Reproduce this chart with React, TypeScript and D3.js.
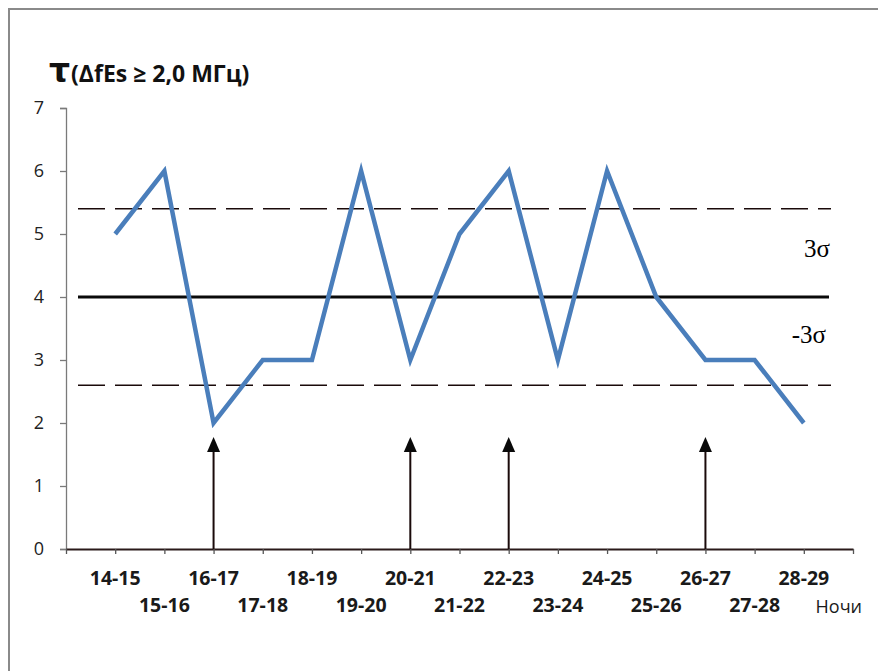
import React, { useEffect, useRef } from 'react';
import * as d3 from 'd3';

const nights = [
  '14-15', '15-16', '16-17', '17-18', '18-19', '19-20', '20-21', '21-22',
  '22-23', '23-24', '24-25', '25-26', '26-27', '27-28', '28-29',
];
const tauValues = [5, 6, 2, 3, 3, 6, 3, 5, 6, 3, 6, 4, 3, 3, 2];
const yTicks = [0, 1, 2, 3, 4, 5, 6, 7];
const meanLevel = 4;
const upperLevel = 5.4;
const lowerLevel = 2.6;
const arrowNights = ['16-17', '20-21', '22-23', '26-27'];

const App: React.FC = () => {
  const svgRef = useRef<SVGSVGElement>(null);

  useEffect(() => {
    if (!svgRef.current) return;
    const width = 878;
    const height = 671;
    const svg = d3.select(svgRef.current).attr('width', width).attr('height', height);
    svg.selectAll('*').remove();

    // frame (only left and top edges visible in the crop)
    svg.append('path')
      .attr('d', `M9,${height} L9,9 L${width},9`)
      .attr('fill', 'none')
      .attr('stroke', '#8a8a8a')
      .attr('stroke-width', 2);

    // slots: one empty slot at each end, categories on the ticks
    const slots = ['_start', ...nights, '_end'];
    const x = d3.scalePoint<string>().domain(slots).range([66, 853]);
    const y = d3.scaleLinear().domain([0, 7]).range([549, 108]);

    // y axis
    const yAxis = svg.append('g').attr('transform', 'translate(66,0)')
      .call(d3.axisLeft(y).tickValues(yTicks).tickSize(6).tickPadding(16).tickFormat(d3.format('d')));
    yAxis.select('.domain').attr('stroke', '#7a7a7a').attr('stroke-width', 1.3);
    yAxis.selectAll('.tick line').attr('stroke', '#7a7a7a').attr('stroke-width', 1.3);
    yAxis.selectAll('.tick text')
      .attr('font-family', 'Open Sans, sans-serif')
      .attr('font-size', 18)
      .attr('fill', '#222');

    // x axis
    const xAxis = svg.append('g').attr('transform', `translate(0,${y(0)})`)
      .call(d3.axisBottom(x).tickSize(5).tickSizeOuter(0).tickFormat(() => ''));
    xAxis.select('.domain').attr('stroke', '#2a1a1a').attr('stroke-width', 2);
    xAxis.selectAll('.tick line').attr('stroke', '#555').attr('stroke-width', 1.3);

    // category labels in two staggered rows
    svg.append('g')
      .selectAll('text')
      .data(nights)
      .enter()
      .append('text')
      .attr('x', (d) => x(d) ?? 0)
      .attr('y', (d, i) => (i % 2 === 0 ? 585 : 612))
      .attr('text-anchor', 'middle')
      .attr('font-family', 'Open Sans, sans-serif')
      .attr('font-weight', 'bold')
      .attr('font-size', 19.5)
      .attr('fill', '#1a1a1a')
      .text((d) => d);

    svg.append('text')
      .attr('x', 862)
      .attr('y', 613)
      .attr('text-anchor', 'end')
      .attr('font-family', 'Open Sans, sans-serif')
      .attr('font-size', 18)
      .attr('fill', '#1a1a1a')
      .text('Ночи');

    // control levels
    const refG = svg.append('g');
    [upperLevel, lowerLevel].forEach((lv) => {
      refG.append('line')
        .attr('x1', 78).attr('x2', 831)
        .attr('y1', y(lv)).attr('y2', y(lv))
        .attr('stroke', '#1a0a0a')
        .attr('stroke-width', 1.5)
        .attr('stroke-dasharray', '27,10');
    });
    refG.append('line')
      .attr('x1', 78).attr('x2', 829)
      .attr('y1', y(meanLevel)).attr('y2', y(meanLevel))
      .attr('stroke', '#0a0a0a')
      .attr('stroke-width', 3);

    svg.append('text')
      .attr('x', 830).attr('y', 257)
      .attr('text-anchor', 'end')
      .attr('font-family', 'Liberation Serif, serif')
      .attr('font-size', 25)
      .text('3σ');
    svg.append('text')
      .attr('x', 826).attr('y', 343)
      .attr('text-anchor', 'end')
      .attr('font-family', 'Liberation Serif, serif')
      .attr('font-size', 25)
      .text('-3σ');

    // arrows
    const arrowG = svg.append('g');
    arrowNights.forEach((n) => {
      const ax = x(n) ?? 0;
      arrowG.append('line')
        .attr('x1', ax).attr('x2', ax)
        .attr('y1', y(0)).attr('y2', 450)
        .attr('stroke', '#1a0a0a')
        .attr('stroke-width', 2);
      arrowG.append('path')
        .attr('d', `M${ax},437 L${ax - 6.5},452 L${ax + 6.5},452 Z`)
        .attr('fill', '#0a0a0a');
    });

    // data line
    const line = d3.line<number>()
      .x((d, i) => x(nights[i]) ?? 0)
      .y((d) => y(d));
    svg.append('path')
      .datum(tauValues)
      .attr('d', line)
      .attr('fill', 'none')
      .attr('stroke', '#4a7ebb')
      .attr('stroke-width', 4.5)
      .attr('stroke-linejoin', 'miter');

    // title
    const title = svg.append('text')
      .attr('x', 49).attr('y', 82)
      .attr('font-family', 'Open Sans, sans-serif')
      .attr('font-weight', 'bold')
      .attr('fill', '#111');
    title.append('tspan').attr('font-size', 33).attr('font-family', 'DejaVu Sans, sans-serif').text('τ');
    title.append('tspan').attr('font-size', 23).attr('dx', 1).text('(ΔfEs ≥ 2,0 МГц)');
  }, []);

  return <svg ref={svgRef} style={{ display: 'block', position: 'absolute', left: 0, top: 0 }}></svg>;
};

export default App;
